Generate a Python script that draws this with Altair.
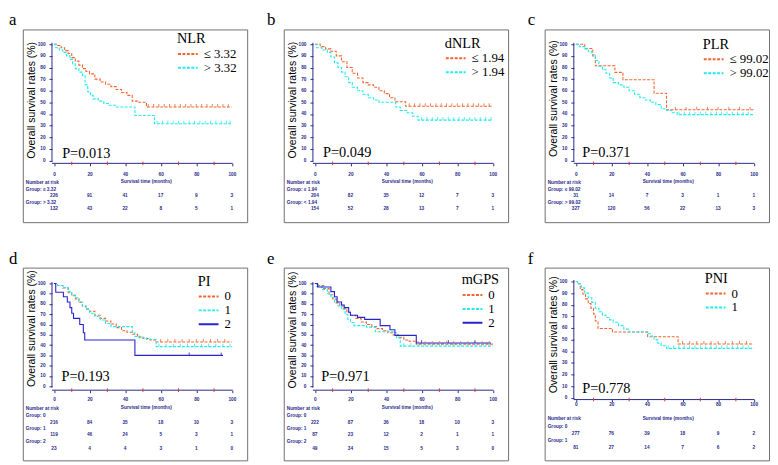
import altair as alt
import pandas as pd

# ------------------------------------------------------------------ data
TIME_TICKS = [0, 20, 40, 60, 80, 100]
MINOR_TICKS = [10, 30, 50, 70, 90]
SURV_TICKS = [0, 10, 20, 30, 40, 50, 60, 70, 80, 90, 100]

# a  NLR
NLR_LABELS = ["≤ 3.32", "> 3.32"]
NLR_GROUPS = ["Group: ≤ 3.32", "Group: > 3.32"]
NLR_LOW_T = [0, 2, 4, 6, 8, 10, 12, 14, 16, 18, 20, 23, 26, 29, 32, 35, 38, 41, 44, 47, 52, 100]
NLR_LOW_S = [100, 99, 97, 94.5, 92, 88.5, 85.5, 82, 79, 76.5, 74.5, 70, 67.5, 65.5, 63.5, 61, 58.5, 56, 51, 50, 46, 46]
NLR_HIGH_T = [0, 1, 3, 5, 7, 9, 10.5, 12, 14, 16, 17.5, 19, 20.5, 22, 25, 28, 31, 35, 45.5, 56.5, 100]
NLR_HIGH_S = [100, 97, 95, 93, 90, 87, 83, 79, 76, 73, 65, 59, 56, 53, 51, 49, 47.5, 46, 38.7, 31.6, 31.6]
NLR_LOW_CENS = [53, 56, 59, 62, 65, 68, 71, 74, 77, 80, 83, 86, 89, 92, 95, 98]
NLR_HIGH_CENS = [58, 61, 64, 67, 70, 73, 76, 79, 82, 85, 88, 91, 94, 97, 99]
NLR_RISK_LOW = [226, 91, 41, 17, 9, 3]
NLR_RISK_HIGH = [132, 43, 22, 8, 5, 1]

# b  dNLR
DNLR_LABELS = ["≤ 1.94", "> 1.94"]
DNLR_GROUPS = ["Group: ≤ 1.94", "Group: < 1.94"]
DNLR_LOW_T = [0, 3, 6, 9, 12, 15, 18, 21, 24, 27, 30, 33, 36, 39, 42, 45, 51, 100]
DNLR_LOW_S = [100, 98, 96, 94, 90, 85, 80, 75, 71, 67, 65, 63, 60, 57.5, 54, 50.5, 46.6, 46.6]
DNLR_HIGH_T = [0, 1, 4, 7, 9, 11, 13, 15, 17, 19, 21, 24, 27, 30, 33, 36, 45.5, 48, 52, 55, 58, 100]
DNLR_HIGH_S = [100, 97, 95, 93, 89, 84, 80, 76, 72, 67, 63, 60, 57, 54, 52, 50, 46, 43, 41, 38, 34.7, 34.7]
DNLR_LOW_CENS = [53, 56, 59, 62, 65, 68, 71, 74, 77, 80, 83, 86, 89, 92, 95, 98]
DNLR_HIGH_CENS = [60, 63, 66, 69, 72, 75, 78, 81, 84, 87, 90, 93, 96, 99]
DNLR_RISK_LOW = [204, 82, 35, 12, 7, 3]
DNLR_RISK_HIGH = [154, 52, 28, 13, 7, 1]

# c  PLR
PLR_LABELS = ["≤ 99.02", "> 99.02"]
PLR_GROUPS = ["Group: ≤ 99.02", "Group: > 99.02"]
PLR_LOW_T = [0, 5, 9.5, 11, 22, 26.5, 44, 51, 100]
PLR_LOW_S = [100, 96.3, 90, 81.5, 75.8, 69.5, 57.8, 43.6, 43.6]
PLR_HIGH_T = [0, 2, 5, 7, 9, 11, 13, 15, 17, 19, 21, 24, 27, 30, 33, 36, 39, 42, 45, 48, 51, 54, 57, 100]
PLR_HIGH_S = [100, 98, 96, 94, 91, 86, 81, 78, 75, 71, 67, 65, 63, 60, 57, 54, 52, 50, 48, 44.5, 43, 41, 39.4, 39.4]
PLR_LOW_CENS = [56, 62, 68, 74, 80, 86, 92, 98]
PLR_HIGH_CENS = [58, 61, 64, 67, 70, 73, 76, 79, 82, 85, 88, 91, 94, 97]
PLR_RISK_LOW = [31, 14, 7, 3, 1, 1]
PLR_RISK_HIGH = [327, 120, 56, 22, 13, 3]

# d  PI
PI_LABELS = ["0", "1", "2"]
PI_GROUPS = ["Group: 0", "Group: 1", "Group: 2"]
PI0_T = [0, 2, 5, 8, 10, 12, 14, 16, 18, 20, 23, 26, 29, 32, 35, 38, 41, 44, 47, 50, 54, 57, 100]
PI0_S = [100, 98, 95.5, 91, 88, 85, 81.5, 78, 75, 73, 69, 66, 63.5, 60.5, 57, 54, 52.5, 50.5, 48, 46.5, 45, 43.1, 43.1]
PI1_T = [0, 2, 5, 8, 10, 12, 14, 16, 18, 20, 23, 26, 29, 32, 44, 45.5, 48, 52, 57.5, 100]
PI1_S = [100, 98, 96, 92, 89, 86, 82, 78, 75, 71, 68, 64.5, 61, 58, 52, 48.5, 47, 45.5, 38.5, 38.5]
PI2_T = [0, 1, 5.3, 7.5, 9, 10, 11, 14.5, 16.5, 17.3, 45.5, 95]
PI2_S = [100, 91.5, 87, 82, 76.5, 71, 66, 60, 52, 45, 30, 30]
PI0_CENS = [60, 64, 68, 72, 76, 80, 84, 88, 92, 96]
PI1_CENS = [59, 63, 67, 71, 75, 79, 83, 87, 91, 95, 99]
PI2_CENS = [76, 94]
PI_RISK_0 = [216, 84, 35, 18, 10, 3]
PI_RISK_1 = [119, 46, 24, 5, 3, 1]
PI_RISK_2 = [23, 4, 4, 3, 1, 0]

# e  mGPS
GPS_LABELS = ["0", "1", "2"]
GPS_GROUPS = ["Group: 0", "Group: 1", "Group: 2"]
GPS0_T = [0, 2, 5, 8, 10, 12, 14, 16, 18, 20, 23, 26, 29, 32, 35, 38, 41, 44, 47, 50, 53, 57, 100]
GPS0_S = [100, 98, 95, 89, 85, 81, 78, 75.5, 72, 69, 66, 62.5, 60, 58, 56, 54, 52, 50, 47.5, 45, 43.7, 41, 41]
GPS1_T = [0, 1, 4, 7, 9, 11, 13, 15, 17, 18.5, 20, 22, 29, 34, 44, 46, 48, 100]
GPS1_S = [100, 97, 94, 90, 86, 82, 78, 75, 70, 65, 62, 59, 57.5, 53, 52, 47, 39, 39]
GPS2_T = [0, 1.5, 9, 11, 12.5, 15, 16.5, 19, 20, 24, 28, 36.7, 42.2, 45, 57, 99]
GPS2_S = [100, 96.5, 92, 87, 82, 79, 76.5, 72, 69, 67, 65, 59, 55, 49.5, 42, 42]
GPS0_CENS = [58, 62, 66, 70, 74, 78, 82, 86, 90, 94, 98]
GPS1_CENS = [50, 54, 58, 62, 66, 70, 74, 78, 82, 86, 90, 94, 98]
GPS2_CENS = [60, 75, 90]
GPS_RISK_0 = [222, 87, 36, 18, 10, 3]
GPS_RISK_1 = [87, 23, 12, 2, 1, 1]
GPS_RISK_2 = [49, 34, 15, 5, 3, 0]

# f  PNI
PNI_LABELS = ["0", "1"]
PNI_GROUPS = ["Group: 0", "Group: 1"]
PNI0_T = [0, 1, 2.5, 4, 5.5, 7, 8.5, 10, 11, 12.5, 20.6, 40.4, 57.5, 100]
PNI0_S = [100, 98, 93, 89, 85, 81, 77, 72, 66, 59.5, 56.5, 52.5, 46.3, 46.3]
PNI1_T = [0, 1, 3, 5, 7, 9, 11, 13, 15, 17, 19, 21, 24, 27, 30, 40, 42, 44, 46, 48, 51, 100]
PNI1_S = [100, 98, 94.5, 90, 86, 82, 77, 74, 71, 69, 67, 65, 62, 59, 56.5, 55, 53, 50, 47, 44.8, 42.5, 42.5]
PNI0_CENS = [60, 64, 68, 72, 76, 80, 84, 88, 92, 96]
PNI1_CENS = [52, 55, 58, 61, 64, 67, 70, 73, 76, 79, 82, 85, 88, 91, 94, 97]
PNI_RISK_0 = [277, 76, 39, 18, 9, 2]
PNI_RISK_1 = [81, 27, 14, 7, 6, 2]

P_VALUES = ["P=0.013", "P=0.049", "P=0.371", "P=0.193", "P=0.971", "P=0.778"]

# ------------------------------------------------------------------ style
SERIF = "Liberation Serif"
SANS = "Liberation Sans"
NAVY = "#2a2a8c"
ORANGE = "#f36530"
CYAN = "#22eaf0"
BLUE = "#2424d0"
MINOR_RED = "#e0352a"
DASH = [3, 1.5]
SOLID = [1, 0]

BOX_W, BOX_H = 227, 195
X0_PX, PX_PER_T = 31.5, 1.8
YAXIS_PX = 29.5

LAY_TOP = dict(top=15, zero=132.5, axis=135.5, tick=2.5, lpad=5.5, xtitle_dy=18.4,
               rows=[155.5, 162.5, 169, 175.7, 182])
LAY_F = dict(top=14, zero=131.7, axis=133.5, tick=2, lpad=0.5, xtitle_dy=19.2,
             rows=[153.3, 161, 168.3, 175.7, 182.7])
LAY_3 = dict(top=16, zero=120, axis=124, tick=2.5, lpad=4, xtitle_dy=17.5,
             rows=[143.4, 149.7, 157.4, 163, 169, 176.7, 183.4])


def panel(letter, title_dx, title, labels, groups, curves, censors, risks, pval,
          lay, leg_x, leg_y, ytitle_y, p_px):
    ppu = (lay["zero"] - lay["top"]) / 100.0
    ymax = 100 + lay["top"] / ppu
    ymin = -(BOX_H - lay["zero"]) / ppu
    xmin = -X0_PX / PX_PER_T
    xmax = (BOX_W - X0_PX) / PX_PER_T

    def yd(px):
        return (lay["zero"] - px) / ppu

    def xd(px):
        return (px - X0_PX) / PX_PER_T

    xs = alt.Scale(domain=[xmin, xmax], nice=False, zero=False)
    ys = alt.Scale(domain=[ymin, ymax], nice=False, zero=False)
    n = len(labels)
    colors = [ORANGE, CYAN, BLUE][:n]
    dashes = [DASH, DASH, SOLID][:n]

    rows = []
    for lab, (ts, ss) in zip(labels, curves):
        for t, s in zip(ts, ss):
            rows.append({"t": t, "S": s, "grp": lab})
    df_c = pd.DataFrame(rows)

    cens = []
    for lab, (ts, ss), ct in zip(labels, curves, censors):
        for t in ct:
            cens.append({"t": t, "S": ss[-1], "grp": lab})
    df_cens = pd.DataFrame(cens)

    leg = alt.Legend(title=title, orient="none", legendX=leg_x, legendY=leg_y,
                     direction="vertical", symbolType="stroke", symbolSize=400,
                     symbolStrokeWidth=2, titleFont=SERIF, titleFontSize=14.5,
                     titleFontWeight="normal", titleColor="black", titlePadding=1,
                     labelFont=SERIF, labelFontSize=13, labelColor="black",
                     labelOffset=5, rowPadding=-0.4, clipHeight=12.5, padding=0)

    x_axis = alt.Axis(values=TIME_TICKS, orient="bottom", offset=-(BOX_H - lay["axis"]),
                      domain=False, grid=False, tickSize=lay["tick"], tickColor=NAVY,
                      labelFont=SANS, labelFontSize=4.8, labelFontWeight="bold",
                      labelColor=NAVY, labelPadding=lay["lpad"], labelFlush=False,
                      labelOverlap=False, title="Survival time (months)",
                      titleFont=SANS, titleFontSize=4.8, titleFontWeight="bold",
                      titleColor=NAVY, titleX=X0_PX + 50 * PX_PER_T + 3,
                      titleY=lay["xtitle_dy"], titleAlign="center",
                      titleBaseline="middle")
    y_axis = alt.Axis(values=SURV_TICKS, orient="left", offset=-YAXIS_PX,
                      domain=False, grid=False, tickSize=3, tickColor=NAVY,
                      labelFont=SANS, labelFontSize=4.8, labelFontWeight="bold",
                      labelColor=NAVY, labelPadding=4, labelOverlap=False,
                      labelFlush=False, title="Overall survival rates (%)",
                      titleFont=SANS, titleFontSize=10.6, titleFontWeight="normal",
                      titleColor="black", titleAngle=270, titleX=-20.8,
                      titleY=ytitle_y, titleAlign="center", titleBaseline="middle")

    def X(field):
        return alt.X(field, scale=xs, axis=x_axis)

    def Y(field):
        return alt.Y(field, scale=ys, axis=y_axis)

    def XD(v):
        return alt.XDatum(v, scale=xs, axis=x_axis)

    def YD(v):
        return alt.YDatum(v, scale=ys, axis=y_axis)

    lines = alt.Chart(df_c).mark_line(interpolate="step-after", strokeWidth=1.1).encode(
        x=X("t:Q"),
        y=Y("S:Q"),
        color=alt.Color("grp:N", scale=alt.Scale(domain=labels, range=colors), legend=leg),
        strokeDash=alt.StrokeDash("grp:N", scale=alt.Scale(domain=labels, range=dashes), legend=leg),
    )

    cens_layer = alt.Chart(df_cens).mark_point(
        shape="stroke", angle=90, size=9, strokeWidth=0.8, yOffset=-1.5, filled=False, opacity=1
    ).encode(
        x=X("t:Q"),
        y=Y("S:Q"),
        color=alt.Color("grp:N", scale=alt.Scale(domain=labels, range=colors), legend=None),
    )

    one = pd.DataFrame({"k": [0]})
    y_line = alt.Chart(one).mark_rule(color=NAVY, strokeWidth=1).encode(
        x=XD(xd(YAXIS_PX)),
        y=YD(-1.3),
        y2=alt.Y2Datum(101.3),
    )
    x_line = alt.Chart(one).mark_rule(color=NAVY, strokeWidth=1).encode(
        x=XD(xd(YAXIS_PX)),
        x2=alt.X2Datum(100.5),
        y=YD(yd(lay["axis"])),
    )
    minor = alt.Chart(pd.DataFrame({"t": MINOR_TICKS})).mark_rule(
        color=MINOR_RED, strokeWidth=1
    ).encode(
        x=X("t:Q"),
        y=YD(yd(lay["axis"] - 1.8)),
        y2=alt.Y2Datum(yd(lay["axis"] + 1.8)),
    )

    p_layer = alt.Chart(pd.DataFrame({"txt": [pval]})).mark_text(
        font=SERIF, fontSize=14.5, align="left", baseline="middle", color="black"
    ).encode(
        x=XD(p_px[0]),
        y=YD(yd(p_px[1])),
        text="txt:N",
    )

    r = lay["rows"]
    lab_rows = [{"yy": yd(r[0]), "txt": "Number at risk"}]
    num_rows = []
    for i, (g, vals) in enumerate(zip(groups, risks)):
        lab_rows.append({"yy": yd(r[1 + 2 * i]), "txt": g})
        for t, v in zip(TIME_TICKS, vals):
            num_rows.append({"t": t, "yy": yd(r[2 + 2 * i]), "txt": str(v)})
    risk_labels = alt.Chart(pd.DataFrame(lab_rows)).mark_text(
        font=SANS, fontSize=4.8, fontWeight="bold", color=NAVY, align="left", baseline="middle"
    ).encode(
        x=XD(xd(3)),
        y=Y("yy:Q"),
        text="txt:N",
    )
    risk_nums = alt.Chart(pd.DataFrame(num_rows)).mark_text(
        font=SANS, fontSize=4.8, fontWeight="bold", color=NAVY, align="center", baseline="middle"
    ).encode(
        x=X("t:Q"),
        y=Y("yy:Q"),
        text="txt:N",
    )

    return alt.layer(lines, cens_layer, y_line, x_line, minor, p_layer, risk_labels, risk_nums).properties(
        width=BOX_W, height=BOX_H,
        title=alt.TitleParams(letter, anchor="start", dx=title_dx, fontSize=17, font=SERIF,
                              fontWeight="normal", color="black", offset=0),
    )


pa = panel("a", -14, "NLR", NLR_LABELS, NLR_GROUPS,
           [(NLR_LOW_T, NLR_LOW_S), (NLR_HIGH_T, NLR_HIGH_S)],
           [NLR_LOW_CENS, NLR_HIGH_CENS], [NLR_RISK_LOW, NLR_RISK_HIGH],
           P_VALUES[0], LAY_TOP, 156, 3, 71.3, (4.6, 126))
pb = panel("b", -17, "dNLR", DNLR_LABELS, DNLR_GROUPS,
           [(DNLR_LOW_T, DNLR_LOW_S), (DNLR_HIGH_T, DNLR_HIGH_S)],
           [DNLR_LOW_CENS, DNLR_HIGH_CENS], [DNLR_RISK_LOW, DNLR_RISK_HIGH],
           P_VALUES[1], LAY_TOP, 163, 7.5, 71, (4.6, 125.3))
pc = panel("c", -17, "PLR", PLR_LABELS, PLR_GROUPS,
           [(PLR_LOW_T, PLR_LOW_S), (PLR_HIGH_T, PLR_HIGH_S)],
           [PLR_LOW_CENS, PLR_HIGH_CENS], [PLR_RISK_LOW, PLR_RISK_HIGH],
           P_VALUES[2], LAY_TOP, 160, 8.5, 69.5, (3.6, 125.3))
pd_ = panel("d", -14, "PI", PI_LABELS, PI_GROUPS,
            [(PI0_T, PI0_S), (PI1_T, PI1_S), (PI2_T, PI2_S)],
            [PI0_CENS, PI1_CENS, PI2_CENS], [PI_RISK_0, PI_RISK_1, PI_RISK_2],
            P_VALUES[3], LAY_3, 177, 7.5, 61.2, (4.2, 111))
pe = panel("e", -17, "mGPS", GPS_LABELS, GPS_GROUPS,
           [(GPS0_T, GPS0_S), (GPS1_T, GPS1_S), (GPS2_T, GPS2_S)],
           [GPS0_CENS, GPS1_CENS, GPS2_CENS], [GPS_RISK_0, GPS_RISK_1, GPS_RISK_2],
           P_VALUES[4], LAY_3, 180, 6, 62.7, (3.6, 111))
pf = panel("f", -17, "PNI", PNI_LABELS, PNI_GROUPS,
           [(PNI0_T, PNI0_S), (PNI1_T, PNI1_S)],
           [PNI0_CENS, PNI1_CENS], [PNI_RISK_0, PNI_RISK_1],
           P_VALUES[5], LAY_F, 162, 4.5, 67.5, (3.6, 123.3))

chart = alt.concat(pa, pb, pc, pd_, pe, pf, columns=3, bounds="flush",
                   spacing={"row": 46, "column": 37}).resolve_scale(
    color="independent", strokeDash="independent"
).properties(padding=0).configure_view(stroke="#707070", strokeWidth=1)

chart.save("out.html", embed_options={"renderer": "svg", "actions": False})
